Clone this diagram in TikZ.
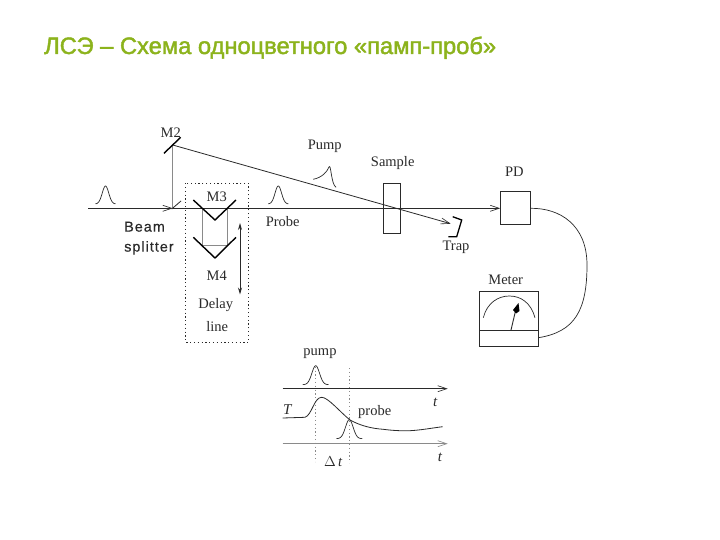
\documentclass[tikz,border=0pt]{standalone}
\usepackage{fontspec}
\setmainfont{Liberation Serif}
\newfontfamily\sansf{Liberation Sans}
\usetikzlibrary{arrows.meta}
\definecolor{titlegreen}{HTML}{8CB31C}
\definecolor{ink}{HTML}{2A2A2A}
\definecolor{beamgray}{HTML}{8A8A8A}
\tikzset{
  lbl/.style={font=\fontsize{14.5}{16}\selectfont,text=ink,inner sep=0pt,yshift=-1pt},
  ital/.style={font=\fontsize{15}{16}\selectfont\itshape,text=ink,inner sep=0pt},
  sanslbl/.style={font=\sansf\fontsize{14.4}{20}\selectfont\addfontfeatures{LetterSpace=7,FakeBold=0.4},text=ink,inner sep=0pt,align=left,anchor=north west},
  titletxt/.style={font=\sansf\fontsize{23.7}{26}\selectfont\addfontfeatures{FakeBold=1.8},text=titlegreen,inner sep=0pt,anchor=base west},
  beam/.style={draw=ink,line width=0.8pt},
  graybeam/.style={draw=beamgray,line width=1pt},
  barb/.style={-{Straight Barb[length=9pt,width=6pt,line width=0.6pt]}},
  mirror/.style={draw=black,line width=1.4pt},
  curve/.style={draw=ink,line width=0.7pt},
  boxd/.style={draw=ink,line width=1pt,fill=none},
  dots/.style={draw=ink,line width=0.9pt,dash pattern=on 1.2pt off 2.6pt},
}
\begin{document}
\begin{tikzpicture}[x=1pt,y=-1pt]
\useasboundingbox[fill=white] (0,0) rectangle (720,540);

\node[titletxt] (title) at (44,54) {ЛСЭ – Схема одноцветного «памп-проб»};

% ---- named points
\coordinate (start) at (88.3,208.3);
\coordinate (split) at (172.7,208.3);
\coordinate (m2c) at (172.7,145);
\coordinate (trapin) at (450.7,223.7);

% ---- components
\node[boxd,minimum width=17.3pt,minimum height=50.3pt,inner sep=0pt] (sample) at (391.7,208.2) {};
\node[boxd,minimum width=29.6pt,minimum height=33.4pt,inner sep=0pt] (pd) at (515.5,208.3) {};
\node[boxd,minimum width=58.6pt,minimum height=55pt,inner sep=0pt] (meter) at (509,319.2) {};

% ---- beams
\draw[graybeam] (m2c) -- (split);
\draw[beam,barb] (start) -- (split);
\draw[beam,barb] (split) -- (pd.west);
\draw[beam,barb] (m2c) -- (trapin);
\coordinate (st1) at (171.7,209);
\coordinate (st2) at (181,201);
\draw[beam] (st1) -- (st2);

% ---- M2
\coordinate (m2a) at (164,153.3);
\coordinate (m2b) at (180.7,137.3);
\draw[mirror] (m2a) -- (m2b);

% ---- delay line
\coordinate (d1) at (185.7,183.3);
\coordinate (d2) at (248.3,342.3);
\draw[dots] (d1) rectangle (d2);
\coordinate (m3a) at (193.3,200);
\coordinate (m3b) at (215,220);
\coordinate (m3c) at (236,200);
\coordinate (m4a) at (193.3,237.3);
\coordinate (m4b) at (215,258);
\coordinate (m4c) at (236,237.3);
\coordinate (g1t) at (202.7,208.3);
\coordinate (g1b) at (202.7,245.3);
\coordinate (g2t) at (227.3,208.3);
\coordinate (g2b) at (227.3,245.3);
\draw[graybeam] (g1t) -- (g1b) -- (g2b) -- (g2t);
\draw[mirror] (m3a) -- (m3b) -- (m3c);
\draw[mirror] (m4a) -- (m4b) -- (m4c);
\coordinate (dl1) at (240,223);
\coordinate (dl2) at (240,294.5);
\draw[draw=ink,line width=0.8pt,{Stealth[length=7pt,width=4pt]}-{Stealth[length=7pt,width=4pt]}] (dl1) -- (dl2);

% ---- pulses on the beams
\draw[curve,shift={(105.5,204)}] plot[domain=-10:10,samples=41,smooth] (\x,{-18*exp(-(\x/4.6)^2)});
\draw[curve,shift={(278.3,204)}] plot[domain=-10:10,samples=41,smooth] (\x,{-18*exp(-(\x/4.6)^2)});
\coordinate (pu1) at (313.3,179.3);
\coordinate (pu3) at (336,187.3);
\draw[curve] (pu1) .. controls (322,177.5) and (327,172) .. (329,167) .. controls (331,163) and (331,184) .. (pu3);

% ---- trap
\coordinate (t1) at (452.7,216.7);
\coordinate (t2) at (461.7,220);
\coordinate (t3) at (456.7,236.7);
\coordinate (t4) at (448.3,236.7);
\draw[draw=black,line width=1.3pt] (t1) -- (t2) -- (t3) -- (t4);

% ---- meter
\coordinate (mdl) at (meter.west |- 0,330);
\coordinate (mdr) at (meter.east |- 0,330);
\draw[boxd] (mdl) -- (mdr);
\coordinate (arcl) at (483.3,317.7);
\coordinate (arct) at (509.3,296);
\coordinate (arcr) at (535,317.7);
\draw[curve] (arcl) .. controls (487,303) and (498,296) .. (arct) .. controls (521,296) and (531,303) .. (arcr);
\coordinate (nd1) at (511,330);
\coordinate (nd2) at (515.5,311);
\draw[draw=ink,line width=0.9pt] (nd1) -- (nd2);
\fill[black] (513,310) -- (518.5,303) -- (519.5,311) -- (516,313.5) -- cycle;

% ---- cable
\coordinate (cab) at (538.3,337.7);
\draw[curve] (pd.east) .. controls (560,208) and (587,225) .. (587,265) .. controls (587,310) and (575,332) .. (cab);

% ---- labels of the setup
\node[lbl] (lm2) at (170.7,131.7) {M2};
\node[lbl] (lm3) at (216.7,195.3) {M3};
\node[lbl] (lm4) at (216.7,274.7) {M4};
\node[lbl] (ld1) at (215.7,304.3) {Delay};
\node[lbl] (ld2) at (217.3,325.3) {line};
\node[lbl] (lpump) at (324.7,145) {Pump};
\node[lbl] (lsample) at (392.7,161.7) {Sample};
\node[lbl] (lpd) at (514.3,170.5) {PD};
\node[lbl] (lprobe) at (282.7,221) {Probe};
\node[lbl] (ltrap) at (456,246) {Trap};
\node[lbl] (lmeter) at (505.7,279.3) {Meter};
\node[sanslbl] (lbeam) at (124,221.5) {Beam\\splitter};

% ---- timing diagram
\coordinate (a1s) at (282.7,388.7);
\coordinate (a1e) at (447.7,388.7);
\coordinate (a2s) at (282.7,443.7);
\coordinate (a2e) at (447.7,443.7);
\coordinate (v1t) at (315.7,366.7);
\coordinate (v1b) at (315.7,461.7);
\coordinate (v2t) at (349.3,368);
\coordinate (v2b) at (349.3,463);
\draw[dots,draw=beamgray] (v1t) -- (v1b);
\draw[dots,draw=beamgray] (v2t) -- (v2b);
\draw[beam,barb] (a1s) -- (a1e);
\draw[draw=beamgray,line width=0.9pt,barb] (a2s) -- (a2e);
\draw[curve,shift={(315.7,384.7)}] plot[domain=-13:13,samples=51,smooth] (\x,{-19*exp(-(\x/5.4)^2)});
\draw[curve,shift={(349.3,438.7)}] plot[domain=-13:13,samples=51,smooth] (\x,{-19*exp(-(\x/5.4)^2)});
\coordinate (c0) at (282.7,418);
\coordinate (c1) at (305,417.3);
\coordinate (c2) at (321.7,397.3);
\coordinate (c3) at (350,420);
\coordinate (c4) at (383.3,429.3);
\coordinate (c5) at (410,430.7);
\coordinate (c6) at (442.7,426.7);
\draw[curve,line width=0.8pt] (c0) -- (c1) .. controls (312,415) and (314,397.3) .. (c2) .. controls (328,397.3) and (340,412) .. (c3) .. controls (361,426) and (372,428.5) .. (c4) .. controls (392,430.5) and (402,431) .. (c5) .. controls (422,430) and (432,428) .. (c6);
\node[lbl] (lp) at (320,353) {pump};
\node[lbl] (lpr) at (374.7,411) {probe};
\node[ital] (lt) at (287.3,409.3) {T};
\node[ital] (lt1) at (435.3,402) {t};
\node[ital] (lt2) at (440,457.3) {t};
\node[lbl] (ldt) at (333.3,460.7) {$\Delta$\,\textit{t}};
\end{tikzpicture}
\end{document}
